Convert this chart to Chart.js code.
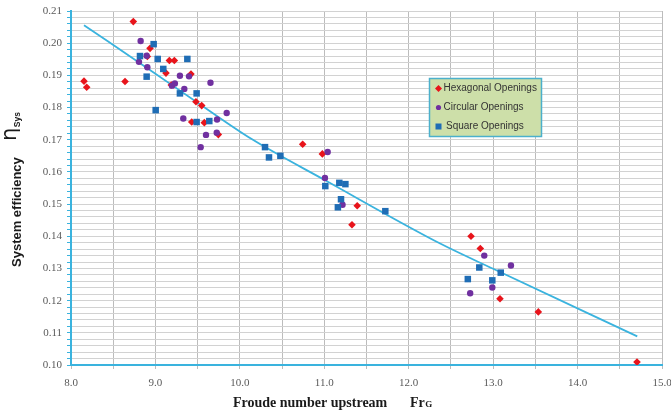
<!DOCTYPE html>
<html>
<head>
<meta charset="utf-8">
<script src="https://cdn.jsdelivr.net/npm/chart.js@4.4.1/dist/chart.umd.min.js"></script>
<style>
  html, body { margin:0; padding:0; background:#ffffff; }
  #wrap { position:relative; width:671px; height:412px; }
</style>
</head>
<body>
<div id="wrap"><canvas id="c" width="671" height="412"></canvas></div>
<script>
// ---- data ----
const hexX = [8.154, 8.186, 8.738, 8.64, 8.936, 8.904, 9.165, 9.224, 9.125, 9.421, 9.188, 9.48, 9.548, 9.43, 9.579, 9.745, 10.744, 10.977, 11.39, 11.328, 12.738, 12.848, 13.081, 13.535, 14.704];
const hexY = [0.1882, 0.1863, 0.2067, 0.1881, 0.1984, 0.1959, 0.1946, 0.1946, 0.1907, 0.1904, 0.1870, 0.1818, 0.1806, 0.1755, 0.1753, 0.1716, 0.1686, 0.1656, 0.1495, 0.1436, 0.1400, 0.1362, 0.1206, 0.1165, 0.1009];

const circX = [8.825, 8.896, 8.805, 8.904, 9.29, 9.398, 9.196, 9.230, 9.342, 9.652, 9.33, 9.730, 9.844, 9.599, 9.726, 9.536, 11.04, 11.008, 11.216, 12.895, 13.211, 12.99, 12.728];
const circY = [0.2007, 0.1961, 0.1942, 0.1925, 0.1899, 0.1897, 0.1868, 0.1875, 0.1858, 0.1877, 0.1766, 0.1763, 0.1783, 0.1715, 0.1722, 0.1677, 0.1662, 0.1581, 0.1498, 0.1340, 0.1309, 0.1241, 0.1223];

const sqX = [8.979, 8.817, 9.027, 9.378, 9.093, 8.896, 9.29, 9.488, 9.003, 9.488, 9.638, 10.298, 10.345, 10.48, 11.012, 11.178, 11.25, 11.198, 11.161, 11.723, 12.836, 13.09, 12.70, 12.99];
const sqY = [0.1997, 0.1960, 0.1951, 0.1951, 0.1920, 0.1896, 0.1844, 0.1844, 0.1792, 0.1755, 0.1758, 0.1677, 0.1645, 0.1650, 0.1556, 0.1566, 0.1562, 0.1515, 0.1490, 0.1478, 0.1303, 0.1287, 0.1267, 0.1263];

const trendX = [8.154, 9.0, 9.5, 10.14, 11.01, 12.39, 13.0, 14.707];
const trendY = [0.2056, 0.1905, 0.1815, 0.1702, 0.1574, 0.1375, 0.1299, 0.1089];

const seriesNames = ['Hexagonal Openings', 'Circular Openings', 'Square Openings'];
const xTitle = 'Froude number upstream';
const xTitleSym = ['Fr', 'G'];
const yTitle = 'System efficiency';
const yTitleSym = ['\u03B7', 'Sys'];

const xMin = 8, xMax = 15, xStep = 0.5;
const yMin = 0.10, yMax = 0.21, yStep = 0.002;

// ---- styles ----
const RED = '#e8141b', PURPLE = '#7030a0', BLUE = '#1f6db5', CYAN = '#3ab3de';

const pts = (xs, ys) => xs.map((x, i) => ({ x: x, y: ys[i] }));

const overlay = {
  id: 'overlay',
  afterDraw(chart) {
    const ctx = chart.ctx;
    ctx.save();
    // legend box
    const lx = 429.5, ly = 78.5, lw = 112, lh = 58;
    ctx.fillStyle = '#cddfa9';
    ctx.fillRect(lx, ly, lw, lh);
    ctx.strokeStyle = '#4bb0cc';
    ctx.lineWidth = 1.5;
    ctx.strokeRect(lx, ly, lw, lh);
    const rows = [88.5, 107.5, 126.5];
    // markers
    ctx.fillStyle = RED;
    ctx.beginPath();
    ctx.moveTo(438.5, rows[0] - 3.5); ctx.lineTo(442, rows[0]); ctx.lineTo(438.5, rows[0] + 3.5); ctx.lineTo(435, rows[0]);
    ctx.closePath(); ctx.fill();
    ctx.fillStyle = PURPLE;
    ctx.beginPath(); ctx.arc(438.5, rows[1], 2.6, 0, Math.PI * 2); ctx.fill();
    ctx.fillStyle = BLUE;
    ctx.fillRect(435.5, rows[2] - 3, 6, 6);
    ctx.fillStyle = '#333333';
    ctx.font = '10px "Liberation Sans", Arial, sans-serif';
    ctx.textBaseline = 'middle';
    ctx.textAlign = 'left';
    ctx.fillText(seriesNames[0], 443.5, rows[0]);
    ctx.fillText(seriesNames[1], 443.5, rows[1]);
    ctx.fillText(seriesNames[2], 446, rows[2]);

    // x title
    ctx.fillStyle = '#1a1a1a';
    ctx.textBaseline = 'alphabetic';
    ctx.font = 'bold 14px "Liberation Serif", "Times New Roman", serif';
    ctx.fillText(xTitle, 233, 407);
    ctx.fillText(xTitleSym[0], 410, 407);
    const fw = ctx.measureText(xTitleSym[0]).width;
    ctx.font = 'bold 9px "Liberation Serif", "Times New Roman", serif';
    ctx.fillText(xTitleSym[1], 410 + fw + 0.5, 407);

    // y title (rotated)
    ctx.translate(21, 267);
    ctx.rotate(-Math.PI / 2);
    ctx.font = 'bold 13px "Liberation Sans", Arial, sans-serif';
    ctx.fillText(yTitle, 0, 0);
    ctx.font = '21px "DejaVu Sans", sans-serif';
    ctx.fillText(yTitleSym[0], 126, -5);
    const ew = ctx.measureText(yTitleSym[0]).width;
    ctx.font = 'bold 8.5px "Liberation Sans", Arial, sans-serif';
    ctx.fillText(yTitleSym[1], 126 + ew + 0.5, -1);
    ctx.restore();
  }
};

new Chart(document.getElementById('c'), {
  type: 'scatter',
  data: {
    datasets: [
      { label: seriesNames[0], data: pts(hexX, hexY), pointStyle: 'rectRot', pointRadius: 3.8, backgroundColor: RED, borderColor: RED, borderWidth: 0, order: 3 },
      { label: seriesNames[1], data: pts(circX, circY), pointStyle: 'circle', pointRadius: 3.2, backgroundColor: PURPLE, borderColor: PURPLE, borderWidth: 0, order: 2 },
      { label: seriesNames[2], data: pts(sqX, sqY), pointStyle: 'rect', pointRadius: 4.6, backgroundColor: BLUE, borderColor: BLUE, borderWidth: 0, order: 1 },
      { type: 'line', label: 'trend', data: pts(trendX, trendY), showLine: true, pointRadius: 0, borderColor: CYAN, borderWidth: 1.8, cubicInterpolationMode: 'monotone', fill: false, order: 4 }
    ]
  },
  options: {
    responsive: false,
    animation: false,
    devicePixelRatio: 1,
    layout: { padding: { left: 0, top: 11, right: 9, bottom: 0 } },
    plugins: { legend: { display: false }, tooltip: { enabled: false } },
    scales: {
      x: {
        type: 'linear', min: xMin, max: xMax,
        afterFit(s) { s.height = 47; s.paddingRight = 0; s.paddingLeft = 0; },
        border: { color: CYAN, width: 2 },
        grid: { color: '#bcbcbc', lineWidth: 1, tickLength: 4, tickColor: '#bcbcbc' },
        ticks: {
          stepSize: xStep, autoSkip: false, maxRotation: 0, padding: 8,
          color: '#5a5a5a', font: { family: '"Liberation Serif", "Times New Roman", serif', size: 11 },
          callback: (v) => Math.abs(v - Math.round(v)) < 1e-6 ? v.toFixed(1) : ''
        }
      },
      y: {
        type: 'linear', min: yMin, max: yMax,
        afterFit(s) { s.width = 71; s.paddingTop = 0; s.paddingBottom = 0; },
        border: { color: CYAN, width: 2 },
        grid: { color: '#d2d2d2', lineWidth: 1, tickLength: 4, tickColor: CYAN },
        ticks: {
          stepSize: yStep, autoSkip: false, padding: 5,
          color: '#5a5a5a', font: { family: '"Liberation Serif", "Times New Roman", serif', size: 11 },
          callback: (v) => Math.abs(v * 100 - Math.round(v * 100)) < 1e-6 ? v.toFixed(2) : ''
        }
      }
    }
  },
  plugins: [overlay]
});
</script>
</body>
</html>
